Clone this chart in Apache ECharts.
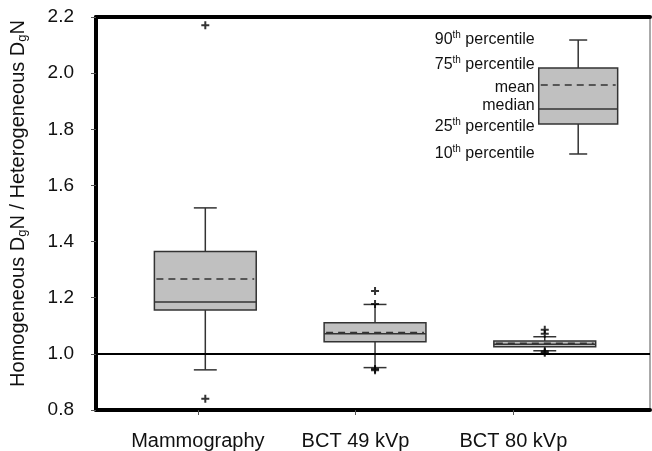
<!DOCTYPE html>
<html><head><meta charset="utf-8">
<script src="https://cdn.jsdelivr.net/npm/echarts@6/dist/echarts.min.js"></script>
<style>html,body{margin:0;padding:0;background:#fff}#c{width:652px;height:451px}</style>
</head><body><div id="c"></div>
<script>
// ---- data ----
const categories = ['Mammography', 'BCT 49 kVp', 'BCT 80 kVp'];
const boxPositions = [1, 2, 3];
const labelPositions = [0.956, 1.885, 2.815];
const p10 =    [0.943, 0.951, 1.011];
const p25 =    [1.156, 1.043, 1.025];
const median = [1.185, 1.072, 1.034];
const p75 =    [1.365, 1.111, 1.046];
const p90 =    [1.520, 1.176, 1.061];
const mean =   [1.267, 1.076, 1.038];
const outlierCategory = [0, 0, 1, 1, 1, 1, 2, 2, 2, 2];
const outlierValue =    [2.171, 0.840, 1.224, 1.178, 0.946, 0.942, 1.086, 1.072, 1.008, 1.004];
const yTicks = [0.8, 1.0, 1.2, 1.4, 1.6, 1.8, 2.0, 2.2];
const referenceValue = 1.0;
// key (explanatory) box
const keyPosition = 3.197;
const keyStats = { p10: 1.712, p25: 1.819, median: 1.872, p75: 2.018, p90: 2.118, mean: 1.958 };
const keyLabels = [
  { value: 'p90', text: '{n|90}{s|th}{n| percentile}' },
  { value: 'p75', text: '{n|75}{s|th}{n| percentile}' },
  { value: 'mean', text: '{n|mean}' },
  { value: 'median', text: '{n|median}' },
  { value: 'p25', text: '{n|25}{s|th}{n| percentile}' },
  { value: 'p10', text: '{n|10}{s|th}{n| percentile}' }
];
const keyLabelOffsets = { p90: 0, p75: -3, mean: 3, median: -3, p25: 3, p10: 0 };

const boxData = categories.map((c, i) => [boxPositions[i], p10[i], p25[i], median[i], p75[i], p90[i], mean[i]]);
const keyData = [[keyPosition, keyStats.p10, keyStats.p25, keyStats.median, keyStats.p75, keyStats.p90, keyStats.mean]];
const outlierData = outlierValue.map((v, i) => [boxPositions[outlierCategory[i]], v]);

const FONT = 'Liberation Sans, Arial, sans-serif';
const TEXT = '#111';
const STROKE = '#333';

function makeRender(boxW, capW, withLabels) {
  return function (params, api) {
    const x = api.value(0);
    const lo = api.coord([x, api.value(1)]);
    const q1 = api.coord([x, api.value(2)]);
    const md = api.coord([x, api.value(3)]);
    const q3 = api.coord([x, api.value(4)]);
    const hi = api.coord([x, api.value(5)]);
    const mn = api.coord([x, api.value(6)]);
    const hw = api.size([boxW, 0])[0] / 2;
    const hc = api.size([capW, 0])[0] / 2;
    const cx = lo[0];
    const ls = { stroke: STROKE, lineWidth: 1.5 };
    const ch = [
      { type: 'line', shape: { x1: cx, y1: hi[1], x2: cx, y2: q3[1] }, style: ls },
      { type: 'line', shape: { x1: cx, y1: q1[1], x2: cx, y2: lo[1] }, style: ls },
      { type: 'line', shape: { x1: cx - hc, y1: hi[1], x2: cx + hc, y2: hi[1] }, style: ls },
      { type: 'line', shape: { x1: cx - hc, y1: lo[1], x2: cx + hc, y2: lo[1] }, style: ls },
      { type: 'rect', shape: { x: cx - hw, y: q3[1], width: 2 * hw, height: q1[1] - q3[1] },
        style: { fill: '#c0c0c0', stroke: STROKE, lineWidth: 1.5 } },
      { type: 'line', shape: { x1: cx - hw, y1: md[1], x2: cx + hw, y2: md[1] }, style: ls },
      { type: 'line', shape: { x1: cx - hw + 2, y1: mn[1], x2: cx + hw - 2, y2: mn[1] },
        style: { stroke: STROKE, lineWidth: 1.5, lineDash: [7, 5] } }
    ];
    if (withLabels) {
      keyLabels.forEach(k => {
        const p = api.coord([x, keyStats[k.value]]);
        ch.push({
          type: 'text',
          x: cx - hw - 4, y: p[1] + keyLabelOffsets[k.value],
          style: {
            text: k.text, align: 'right', verticalAlign: 'middle',
            rich: {
              n: { fontSize: 16, fontFamily: FONT, fill: TEXT },
              s: { fontSize: 10, fontFamily: FONT, fill: TEXT, padding: [0, 0, 9, 0] }
            }
          }
        });
      });
    }
    return { type: 'group', children: ch };
  };
}

const chart = echarts.init(document.getElementById('c'), null, { renderer: 'canvas' });
chart.setOption({
  animation: false,
  backgroundColor: '#fff',
  grid: { left: 95, right: 2, top: 17, bottom: 41, show: true, borderColor: '#555', borderWidth: 1, backgroundColor: 'transparent' },
  xAxis: [{
    type: 'value', min: 0.356, max: 3.62, position: 'bottom',
    splitLine: { show: false },
    axisLine: { show: true, onZero: false, lineStyle: { color: '#000', width: 4 } },
    axisTick: { show: true, customValues: labelPositions, length: 5, lineStyle: { color: '#555', width: 1 } },
    axisLabel: {
      customValues: labelPositions, margin: 21, fontSize: 20, color: TEXT, fontFamily: FONT,
      formatter: v => {
        let best = 0;
        labelPositions.forEach((p, i) => { if (Math.abs(p - v) < Math.abs(labelPositions[best] - v)) best = i; });
        return categories[best];
      }
    }
  }, {
    type: 'value', min: 0.356, max: 3.62, position: 'top',
    splitLine: { show: false },
    axisLine: { show: true, onZero: false, lineStyle: { color: '#000', width: 4 } },
    axisTick: { show: false }, axisLabel: { show: false }
  }],
  yAxis: {
    type: 'value', min: 0.8, max: 2.2, interval: 0.2,
    splitLine: { show: false },
    axisLine: { show: true, lineStyle: { color: '#000', width: 4 } },
    axisTick: { show: true, length: 5, lineStyle: { color: '#555', width: 1 } },
    axisLabel: { fontSize: 19, color: TEXT, fontFamily: FONT, margin: 22, formatter: v => v.toFixed(1) },
    name: 'Homogeneous D{sub|g}N / Heterogeneous D{sub|g}N',
    nameLocation: 'middle', nameGap: 67, nameRotate: 90,
    nameTextStyle: {
      fontSize: 20, color: TEXT, fontFamily: FONT, padding: [0, 0, 0, 20],
      rich: { sub: { fontSize: 13, color: TEXT, fontFamily: FONT, padding: [9, 0, 0, 0] } }
    }
  },
  series: [
    {
      type: 'custom', renderItem: makeRender(0.6, 0.135, false), data: boxData,
      encode: { x: 0, y: [1, 2, 3, 4, 5, 6] }, z: 3
    },
    {
      type: 'custom', renderItem: makeRender(0.465, 0.106, true), data: keyData,
      encode: { x: 0, y: [1, 2, 3, 4, 5, 6] }, z: 3
    },
    {
      type: 'scatter', data: outlierData, z: 5,
      symbol: 'path://M3,0h2v3h3v2h-3v3h-2v-3h-3v-2h3z', symbolSize: 8,
      itemStyle: { color: '#000' },
      markLine: {
        silent: true, symbol: 'none', label: { show: false },
        lineStyle: { color: '#000', width: 2, type: 'solid' },
        data: [{ yAxis: referenceValue }]
      }
    }
  ]
});
</script></body></html>
